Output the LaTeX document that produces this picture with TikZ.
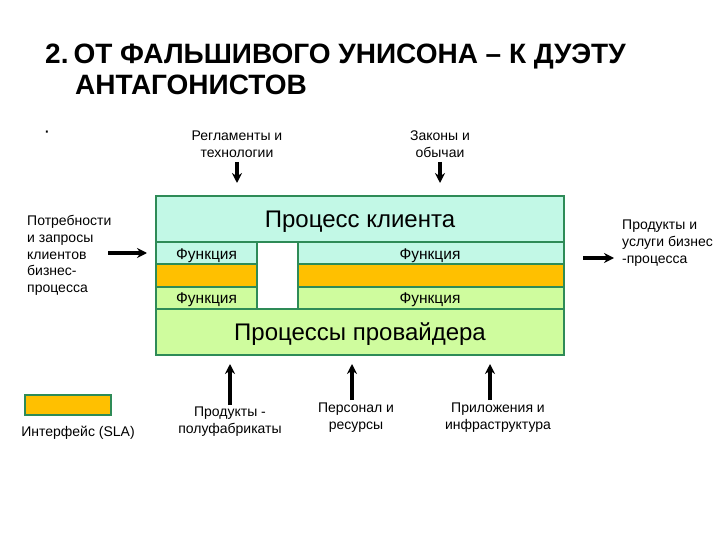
\documentclass[tikz,border=0pt]{standalone}
\usepackage{fontspec}
\setmainfont{Liberation Sans}
\usetikzlibrary{arrows.meta}
\definecolor{mint}{HTML}{C2F8E6}
\definecolor{lgreen}{HTML}{CFFC9E}
\definecolor{orng}{HTML}{FFC000}
\definecolor{bord}{HTML}{2E8B57}
\tikzset{
  band/.style={draw=bord, line width=1.6pt},
  small/.style={font=\fontsize{14}{17}\selectfont, align=center, inner sep=0pt},
  smallL/.style={font=\fontsize{14}{16.8}\selectfont, align=left, inner sep=0pt},
  fun/.style={font=\fontsize{15.5}{17}\selectfont, inner sep=0pt},
  big/.style={font=\fontsize{24}{28}\selectfont, inner sep=0pt},
  arr/.style={-{Stealth[length=10pt,width=10pt]}, line width=3.2pt, black},
  titl/.style={anchor=base west, inner sep=0pt, font=\bfseries\fontsize{28}{32}\selectfont},
}
\begin{document}
\begin{tikzpicture}[x=1pt,y=-1pt]
\useasboundingbox[fill=white] (0,0) rectangle (720,540);
% title
\node[titl] (t1) at (45,64) {2.\hspace{0.18em}ОТ ФАЛЬШИВОГО УНИСОНА – К ДУЭТУ};
\node[titl] (t2) at (75,95) {АНТАГОНИСТОВ};
\node[inner sep=0pt, font=\fontsize{20}{20}\selectfont] (dot) at (47,134) {·};
% main block
\fill[mint] (156,196) rectangle (564,264);
\fill[orng] (156,264) rectangle (564,287);
\fill[lgreen] (156,287) rectangle (564,355);
\fill[white] (257,242) rectangle (298,309);
\draw[band] (156,242) -- (564,242);
\draw[band] (156,264) -- (257,264) (298,264) -- (564,264);
\draw[band] (156,287) -- (257,287) (298,287) -- (564,287);
\draw[band] (156,309) -- (564,309);
\draw[band] (257,242) -- (257,309) (298,242) -- (298,309);
\draw[band] (156,196) rectangle (564,355);
\node[big] (pk) at (360,222) {Процесс клиента};
\node[big] (pp) at (360,334) {Процессы провайдера};
\node[fun, anchor=west] (f1) at (176,255.5) {Функция};
\node[fun] (f2) at (430,255.5) {Функция};
\node[fun, anchor=west] (f3) at (176,299.5) {Функция};
\node[fun] (f4) at (430,299.5) {Функция};
% top inputs
\node[small] (reg) at (237,144.5) {Регламенты и\\технологии};
\node[small] (zak) at (440,144.5) {Законы и\\обычаи};
\draw[arr] (237,162) -- (237,183);
\draw[arr] (440,162) -- (440,183);
% left input
\node[smallL, anchor=north west] (potr) at (27,215) {Потребности\\и запросы\\клиентов\\бизнес-\\процесса};
\draw[arr] (108,253) -- (147,253);
% right output
\node[smallL, anchor=north west] (prod) at (622,220) {Продукты и\\услуги бизнес\\-процесса};
\draw[arr] (583,258) -- (614,258);
% bottom inputs
\draw[arr] (230,405) -- (230,364);
\draw[arr] (352,400) -- (352,364);
\draw[arr] (490,400) -- (490,364);
\node[small] (pf) at (230,422) {Продукты -\\полуфабрикаты};
\node[small] (pers) at (356,418) {Персонал и\\ресурсы};
\node[small] (pril) at (498,418) {Приложения и\\инфраструктура};
% legend
\draw[band, fill=orng, line width=1.2pt] (25,395) rectangle (111,415);
\node[small] (sla) at (78,433) {Интерфейс (SLA)};
\end{tikzpicture}
\end{document}
